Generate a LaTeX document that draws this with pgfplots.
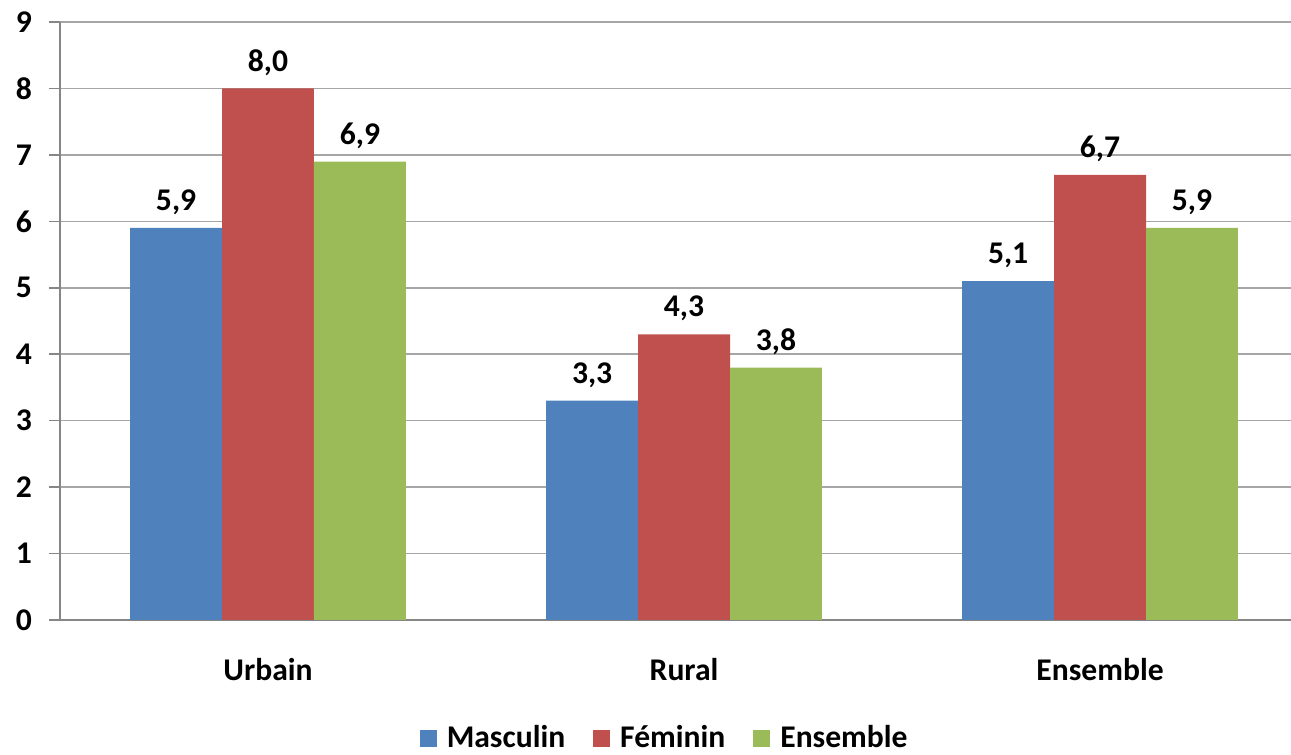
\documentclass[border=0pt]{standalone}
\usepackage{fontspec}
\setmainfont{Carlito}
\usepackage{pgfplots}
\pgfplotsset{compat=1.18}
\definecolor{cblue}{HTML}{4F81BD}
\definecolor{cred}{HTML}{C0504D}
\definecolor{cgreen}{HTML}{9BBB59}
\definecolor{gridgray}{HTML}{A6A6A6}
\definecolor{axisgray}{HTML}{868686}
\newcommand{\lblfont}{\fontsize{15.8}{18}\selectfont\bfseries}
\begin{document}
\begin{tikzpicture}
\begin{axis}[
	scale only axis,
	width=615.5pt, height=299pt,
	xmin=-0.5, xmax=2.459,
	ymin=0, ymax=9,
	axis x line*=bottom,
	axis y line*=left,
	axis line style={axisgray, line width=0.8pt},
	font=\lblfont,
	/pgf/number format/assume math mode=true,
	ybar, bar width=0.221,
	xtick={0,1,2},
	xticklabels={Urbain, Rural, Ensemble},
	x tick style={draw=none},
	x tick label style={yshift=-10pt},
	extra x ticks={-0.5,0.5,1.5},
	extra x tick labels={},
	extra x tick style={grid=none, major tick length=4.5pt, tick style={draw=axisgray, line width=0.8pt}},
	ytick={0,...,9},
	y tick style={axisgray, line width=0.8pt},
	y tick label style={xshift=-5pt},
	tick align=outside,
	major tick length=5.5pt,
	ymajorgrids,
	grid style={gridgray, line width=0.8pt},
	nodes near coords,
	nodes near coords style={/pgf/number format/fixed, /pgf/number format/fixed zerofill,
		/pgf/number format/precision=1, /pgf/number format/use comma},
	every node near coord/.append style={font=\lblfont, yshift=3pt},
	legend style={at={(0.492,-0.198)}, anchor=center, draw=none, legend columns=-1,
		/tikz/every odd column/.append style={column sep=3pt},
		/tikz/every even column/.append style={column sep=12pt},
		font=\lblfont},
	legend image code/.code={\fill[#1] (0pt,-4.25pt) rectangle (8.5pt,4.25pt);},
]
\addplot[fill=cblue, draw=none, bar shift=-0.221] coordinates {(0,5.9) (1,3.3) (2,5.1)};
\addplot[fill=cred, draw=none, bar shift=0] coordinates {(0,8.0) (1,4.3) (2,6.7)};
\addplot[fill=cgreen, draw=none, bar shift=0.221] coordinates {(0,6.9) (1,3.8) (2,5.9)};
\legend{Masculin, Féminin, Ensemble}
\end{axis}
\pgfresetboundingbox
\path (-30pt,-67.5pt) rectangle (615.5pt,310pt);
\end{tikzpicture}
\end{document}
